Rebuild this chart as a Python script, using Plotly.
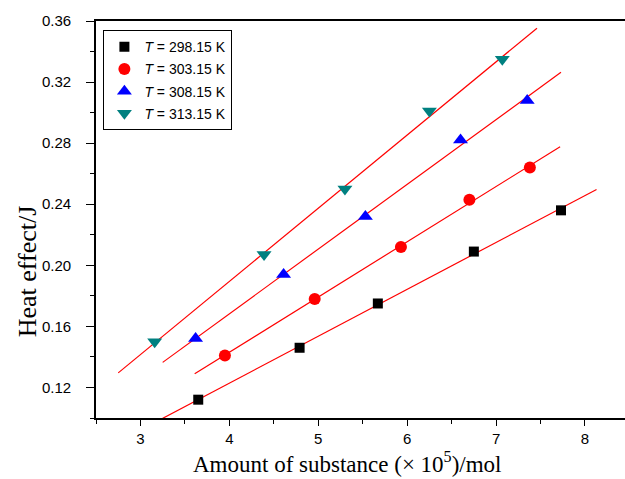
import numpy as np
import plotly.graph_objects as go

# Data (x: amount of substance ×10^5 / mol, y: heat effect / J)
labels = ["<i>T</i> = 298.15 K", "<i>T</i> = 303.15 K", "<i>T</i> = 308.15 K", "<i>T</i> = 313.15 K"]
x_title = "Amount of substance (× 10<sup>5</sup>)/mol"
y_title = "Heat effect/J"

x_298 = [3.65, 4.79, 5.67, 6.75, 7.73]
y_298 = [0.112, 0.146, 0.175, 0.209, 0.236]

x_303 = [3.95, 4.96, 5.93, 6.70, 7.38]
y_303 = [0.141, 0.178, 0.212, 0.243, 0.264]

x_308 = [3.62, 4.61, 5.53, 6.60, 7.35]
y_308 = [0.152, 0.194, 0.232, 0.282, 0.308]

x_313 = [3.16, 4.39, 5.30, 6.25, 7.07]
y_313 = [0.150, 0.207, 0.250, 0.301, 0.335]

# extent of each fitted line along x
fit_x_start = [3.10, 3.61, 3.25, 2.75]
fit_x_end = [8.13, 7.72, 7.73, 7.46]

colors = ["#000000", "#ff0000", "#0000ff", "#008080"]
symbols = ["square", "circle", "triangle-up", "triangle-down"]
sizes = [10, 12, 13, 13]

series = [(x_298, y_298), (x_303, y_303), (x_308, y_308), (x_313, y_313)]

fig = go.Figure()

for i, (xs, ys) in enumerate(series):
    k, b = np.polyfit(xs, ys, 1)
    lx = np.array([fit_x_start[i], fit_x_end[i]])
    fig.add_trace(go.Scatter(
        x=lx, y=k * lx + b, mode="lines",
        line=dict(color="#ff0000", width=1.2),
        showlegend=False, hoverinfo="skip", cliponaxis=True,
    ))

for i, (xs, ys) in enumerate(series):
    fig.add_trace(go.Scatter(
        x=xs, y=ys, mode="markers", name=labels[i],
        legendgroup=f"g{i}",
        marker=dict(symbol=symbols[i], color=colors[i], size=sizes[i],
                    line=dict(width=0)),
        cliponaxis=False,
    ))

axis_font = dict(family="Liberation Sans, Arial, sans-serif", size=15, color="#000")
serif = "Liberation Serif, Times New Roman, serif"

fig.update_layout(
    width=625, height=479,
    margin=dict(l=96, r=0, t=21, b=61, pad=0),
    paper_bgcolor="white", plot_bgcolor="white",
    showlegend=True,
    legend=dict(
        x=0.014, y=0.977, xanchor="left", yanchor="top",
        bordercolor="#000", borderwidth=1, bgcolor="white",
        font=dict(family="Liberation Sans, Arial, sans-serif", size=14, color="#000"),
        tracegroupgap=1, itemwidth=30,
    ),
    xaxis=dict(
        range=[2.5, 8.45], tickmode="linear", tick0=3, dtick=1,
        ticks="outside", ticklen=6, tickwidth=1.2, tickcolor="#000",
        showline=True, linecolor="#000", linewidth=1.8, mirror=True,
        showgrid=False, zeroline=False, tickfont=axis_font,
        minor=dict(ticks="outside", ticklen=4, dtick=0.5, tick0=2.5, tickcolor="#000", tickwidth=1.2),
    ),
    yaxis=dict(
        range=[0.10, 0.36], tickmode="linear", tick0=0.12, dtick=0.04,
        tickformat=".2f",
        ticks="outside", ticklen=8, tickwidth=1.2, tickcolor="#000",
        showline=True, linecolor="#000", linewidth=1.8, mirror=False,
        showgrid=False, zeroline=False, tickfont=axis_font,
        ticklabelstandoff=12,
        minor=dict(ticks="outside", ticklen=4, dtick=0.02, tick0=0.10, tickcolor="#000", tickwidth=1.2),
    ),
    annotations=[
        dict(text=x_title, xref="paper", yref="paper", x=0.476, y=-0.113,
             xanchor="center", yanchor="middle", showarrow=False,
             font=dict(family=serif, size=23, color="#000")),
        dict(text=y_title, xref="paper", yref="paper", x=-0.130, y=0.37,
             xanchor="center", yanchor="middle", showarrow=False, textangle=-90,
             font=dict(family=serif, size=26, color="#000")),
    ],
)

fig.write_html("out.html", config={"displayModeBar": False},
               post_script="document.body.style.margin='0';")
